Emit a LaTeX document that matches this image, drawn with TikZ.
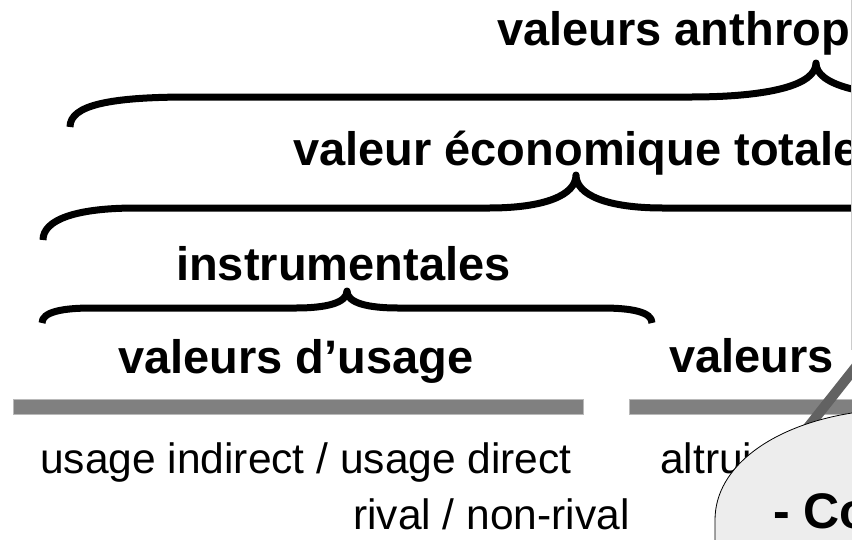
\documentclass[tikz,border=0pt]{standalone}
\usepackage{fontspec}
\setmainfont{Liberation Sans}
\definecolor{barGray}{HTML}{808080}
\definecolor{bandGray}{HTML}{626262}
\definecolor{noteGray}{HTML}{EDEDED}

\begin{document}
\begin{tikzpicture}[x=1pt,y=-1pt,title node/.style={anchor=base west,inner sep=0pt,font=\fontsize{47}{56}\selectfont\bfseries},item node/.style={anchor=base west,inner sep=0pt,font=\fontsize{42.5}{51}\selectfont},brace line/.style={line width=7pt,line join=round},bar/.style={fill=barGray,draw=gray!55,line width=0.8pt},pointer/.style={draw=bandGray,line width=10pt},note/.style={fill=noteGray,draw=black,line width=0.8pt}]
            \useasboundingbox (0,0) rectangle (852,539);
            \clip (0,0) rectangle (852,539);

            \node[title node] (1) at (497,45) {valeurs anthrop};
            \node[title node] (2) at (293,165) {valeur économique totale};
            \node[title node] (3) at (176,280) {instrumentales};
            \node[title node] (4) at (118,373) {valeurs d’usage};
            \node[title node] (5) at (669,372) {valeurs};

            \node[item node] (6) at (40,473) {usage indirect / usage direct};
            \node[item node] (7) at (353,529) {rival / non-rival};
            \node[item node] (8) at (660,473) {altrui};

            % braces
            \draw[brace line] (70,127) .. controls (70,105) and (110,97) .. (190,97) -- (690,97)
                .. controls (770,97) and (816,85) .. (816,63) .. controls (816,85) and (862,97) .. (942,97) -- (1000,97);
            \draw[brace line] (43,240) .. controls (43,220) and (75,208) .. (136,208) -- (489,208)
                .. controls (545,208) and (576,195) .. (576,175) .. controls (576,195) and (607,208) .. (663,208) -- (900,208);
            \draw[brace line] (42,323) .. controls (42,312) and (62,308) .. (92,308) -- (296,308)
                .. controls (326,308) and (347,303) .. (347,291) .. controls (347,303) and (368,308) .. (398,308) -- (602,308)
                .. controls (632,308) and (652,312) .. (652,323);

            % bars
            \path[bar] (13,399) rectangle (583,414);
            \path[bar] (629,399) rectangle (870,414);
            \draw[gray!40,line width=1pt] (851,0) -- (851,350);

            % callout
            \coordinate (9) at (790,450);
            \coordinate (10) at (885,330);
            \path[pointer] (9) -- (10);
            \path[note] (715,560) -- (715,520) .. controls (715,465) and (775,425) .. (852,413) -- (880,409) -- (880,560) -- cycle;
            \node[title node,font=\fontsize{50}{60}\selectfont\bfseries] (11) at (773,528) {- Co};
        \end{tikzpicture}
\end{document}
